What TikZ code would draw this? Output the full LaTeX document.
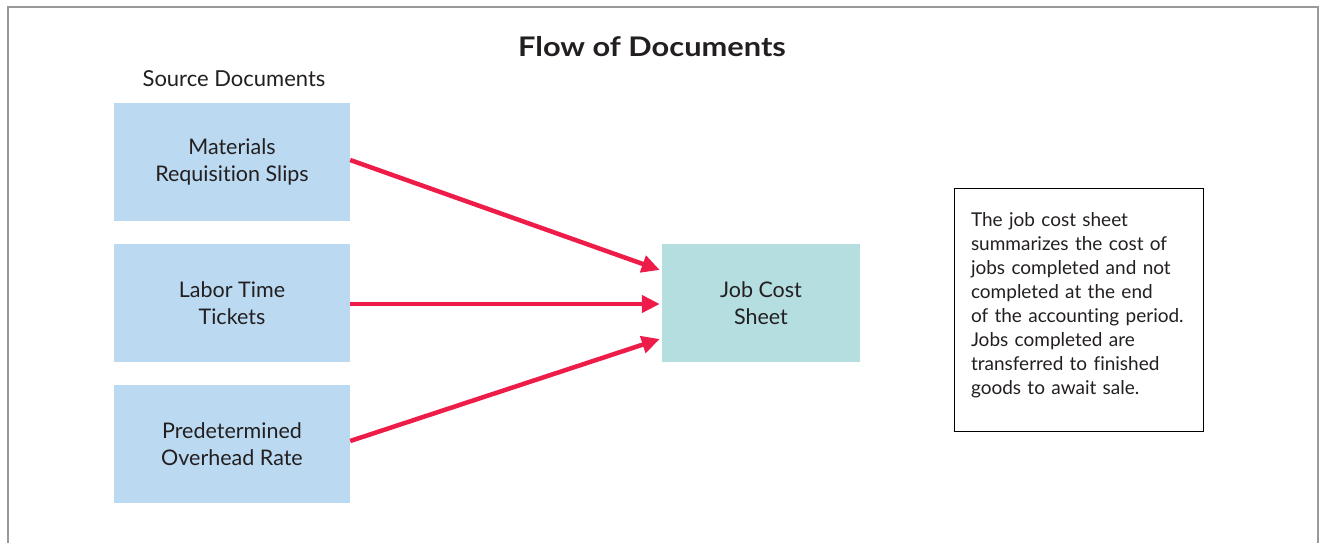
\documentclass[tikz,border=0pt]{standalone}
\usepackage{fontspec}
\setmainfont{Lato}[Ligatures=NoCommon]
\newfontfamily\titlefont{Lato}[Ligatures=NoCommon,FakeStretch=1.14]
\usetikzlibrary{arrows.meta}
\definecolor{srcblue}{HTML}{BBDAF2}
\definecolor{jobteal}{HTML}{B5DEE0}
\definecolor{arrred}{HTML}{EE1C48}
\definecolor{framegray}{HTML}{999999}
\definecolor{textgray}{HTML}{231F20}
\begin{document}
\begin{tikzpicture}[x=1pt,y=-1pt,
  every node/.style={text=textgray},
  srcbox/.style={fill=srcblue, minimum width=236pt, minimum height=118pt, inner sep=0pt, align=center, font=\fontsize{21.5}{27}\selectfont},
  jobbox/.style={fill=jobteal, minimum width=198pt, minimum height=118pt, inner sep=0pt, align=center, font=\fontsize{21.5}{27}\selectfont},
  notebox/.style={draw=black, line width=1pt, text width=215pt, inner xsep=17pt, inner ysep=0pt, minimum height=243pt, align=left, font=\fontsize{19}{24}\selectfont},
  arr/.style={draw=arrred, line width=4.5pt, -{Triangle[length=18pt,width=17pt]}}
]
\useasboundingbox (0,0) rectangle (1321,543);
\draw[framegray, line width=2.5pt] (8,543) -- (8,7) -- (1318,7) -- (1318,543);
\node[font=\titlefont\bfseries\fontsize{27}{30}\selectfont] (title) at (652,47) {Flow of Documents};
\node[font=\fontsize{22}{26}\selectfont] (src) at (234,79) {Source Documents};
\node[srcbox] (mat) at (232,162) {Materials\\Requisition Slips};
\node[srcbox] (lab) at (232,303) {Labor Time\\Tickets};
\node[srcbox] (pre) at (232,444) {Predetermined\\Overhead Rate};
\node[jobbox] (job) at (761,303) {Job Cost\\Sheet};
\node[notebox] (note) at (1078.5,309.5) {The job cost sheet\\summarizes the cost of\\jobs completed and not\\completed at the end\\of the accounting period.\\Jobs completed are\\transferred to finished\\goods to await sale.\\[-12pt]\mbox{}};
\draw[arr] ([yshift=2pt]mat.east) -- ([xshift=-2pt,yshift=33pt]job.west);
\draw[arr] ([yshift=-1pt]lab.east) -- ([xshift=-2pt,yshift=-1pt]job.west);
\draw[arr] ([yshift=3pt]pre.east) -- ([xshift=-2pt,yshift=-36pt]job.west);
\end{tikzpicture}
\end{document}
